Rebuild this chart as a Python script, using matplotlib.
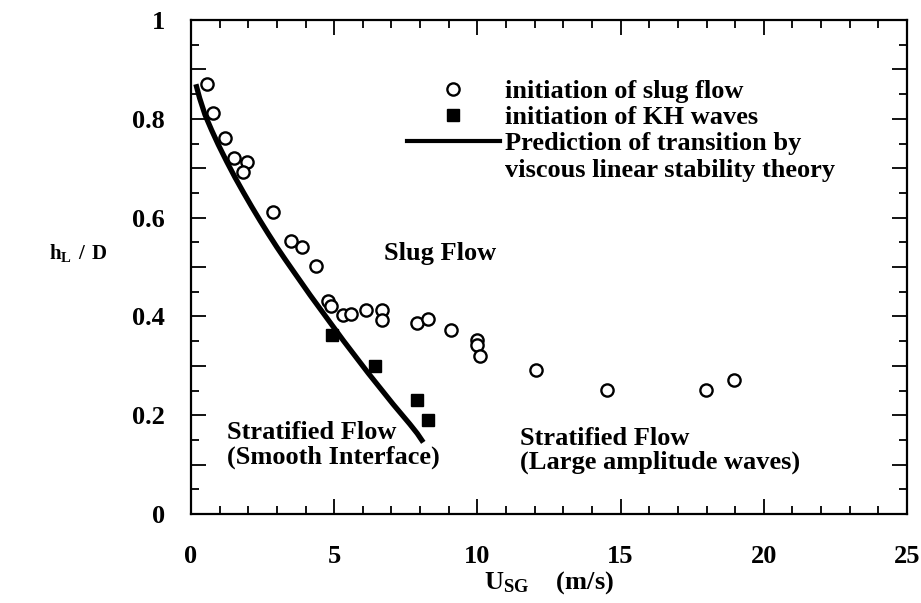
import numpy as np
import matplotlib
matplotlib.use("Agg")
import matplotlib.pyplot as plt
from matplotlib.lines import Line2D

plt.rcParams['font.family'] = ['Liberation Serif', 'DejaVu Serif']
plt.rcParams['font.weight'] = 'bold'
plt.rcParams['mathtext.fontset'] = 'custom'
plt.rcParams['mathtext.rm'] = 'Liberation Serif:bold'
plt.rcParams['mathtext.default'] = 'rm'

# slug initiation (open circles)
slug_usg = [0.55, 0.76, 1.19, 1.51, 1.97, 1.83, 2.87, 3.48, 3.89, 4.35, 4.80, 4.88,
            5.32, 5.58, 6.10, 6.68, 6.68, 7.88, 8.29, 9.08, 9.97, 9.97, 10.09,
            12.03, 14.51, 17.98, 18.97]
slug_hl = [0.871, 0.811, 0.761, 0.721, 0.712, 0.692, 0.612, 0.552, 0.540, 0.502,
           0.432, 0.422, 0.402, 0.405, 0.412, 0.412, 0.392, 0.386, 0.395, 0.372,
           0.352, 0.343, 0.320, 0.291, 0.252, 0.252, 0.271]

# KH wave initiation (filled squares)
kh_usg = [4.91, 6.42, 7.90, 8.29]
kh_hl = [0.362, 0.299, 0.230, 0.190]

# viscous linear stability prediction
vls_usg = [0.17, 0.30, 0.49, 0.72, 0.95, 1.25, 1.54, 1.83, 2.12, 2.41, 2.70, 3.00,
           3.28, 3.58, 3.87, 4.16, 4.45, 4.74, 5.03, 5.32, 5.61, 5.90, 6.19, 6.48,
           6.77, 7.06, 7.35, 7.64, 7.90, 8.11]
vls_hl = [0.870, 0.842, 0.808, 0.777, 0.748, 0.713, 0.681, 0.651, 0.622, 0.594,
          0.567, 0.540, 0.516, 0.491, 0.467, 0.443, 0.420, 0.397, 0.374, 0.351,
          0.329, 0.307, 0.285, 0.264, 0.243, 0.222, 0.202, 0.182, 0.163, 0.145]

xticks = [0, 5, 10, 15, 20, 25]
yticks = [0, 0.1, 0.2, 0.3, 0.4, 0.5, 0.6, 0.7, 0.8, 0.9, 1.0]
ytick_labels = ['0', '', '0.2', '', '0.4', '', '0.6', '', '0.8', '', '1']

FS = 19

fig = plt.figure(figsize=(9.21, 6.03), dpi=100)
ax = fig.add_axes([0.2074, 0.1476, 0.7774, 0.8192])

ax.plot(vls_usg, vls_hl, color='black', lw=3.8, solid_capstyle='butt')
ax.plot(slug_usg, slug_hl, 'o', mfc='white', mec='black', mew=1.7, ms=8.8, ls='none')
ax.plot(kh_usg, kh_hl, 's', color='black', ms=9, ls='none')

ax.set_xlim(0, 25)
ax.set_ylim(0, 1)
ax.set_xticks(xticks)
ax.set_xticks(np.arange(0, 26, 1), minor=True)
ax.set_yticks(yticks)
ax.set_yticklabels(ytick_labels)
ax.set_yticks(np.arange(0, 1.01, 0.05), minor=True)

ax.tick_params(which='both', direction='in', top=True, right=True,
               labelsize=FS, width=1.3, color='black')
ax.tick_params(which='major', length=11)
ax.tick_params(which='minor', length=6)
ax.tick_params(axis='x', which='major', pad=22)
ax.tick_params(axis='y', which='major', pad=19)
for s in ax.spines.values():
    s.set_linewidth(1.6)

ax.set_xlabel(r'$U_{SG}\ \ \ (m/s)$', fontsize=FS, va='top')
ax.xaxis.set_label_coords(0.5, -0.112)
ax.set_ylabel(r'$h_{L}\ /\ D$', fontsize=15, rotation=0, ha='center', va='center')
ax.yaxis.set_label_coords(-0.158, 0.528)

# flow regime labels
ax.text(6.74, 0.528, 'Slug Flow', fontsize=FS, ha='left', va='center')
ax.text(1.26, 0.140, 'Stratified Flow\n(Smooth Interface)', fontsize=FS,
        ha='left', va='center', linespacing=1.05)
ax.text(11.49, 0.128, 'Stratified Flow\n(Large amplitude waves)', fontsize=FS,
        ha='left', va='center', linespacing=1.05)

handles = [
    Line2D([], [], marker='o', mfc='white', mec='black', mew=1.7, ms=8.8, ls='none'),
    Line2D([], [], marker='s', color='black', ms=9, ls='none'),
    Line2D([], [], color='black', lw=3.0),
    Line2D([], [], color='none'),
]
labels = ['initiation of slug flow', 'initiation of KH waves',
          'Prediction of transition by', 'viscous linear stability theory']
ax.legend(handles, labels, loc='upper left', bbox_to_anchor=(0.302, 0.879),
          frameon=False, fontsize=FS, handlelength=3.5, handletextpad=0.2,
          labelspacing=0.1, borderpad=0, borderaxespad=0)

fig.savefig('out.png', dpi=100)
